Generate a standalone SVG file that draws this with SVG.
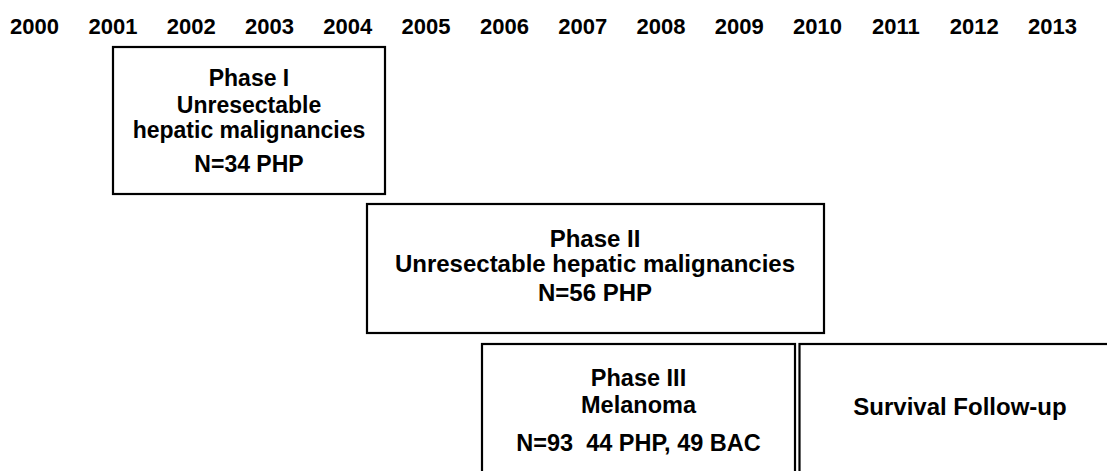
<svg xmlns="http://www.w3.org/2000/svg" width="1107" height="471" viewBox="0 0 1107 471">
<style>
text{font-family:"Liberation Sans",Arial,sans-serif;font-weight:bold;fill:#000;text-anchor:middle}
.yr{font-size:22px}
.box{fill:#fff;stroke:#000;stroke-width:2.2}
</style>
<rect width="1107" height="471" fill="#fff"/>
<g id="years">
<text class="yr" x="34.6" y="34">2000</text>
<text class="yr" x="112.9" y="34">2001</text>
<text class="yr" x="191.2" y="34">2002</text>
<text class="yr" x="269.5" y="34">2003</text>
<text class="yr" x="347.8" y="34">2004</text>
<text class="yr" x="426.1" y="34">2005</text>
<text class="yr" x="504.4" y="34">2006</text>
<text class="yr" x="582.7" y="34">2007</text>
<text class="yr" x="661" y="34">2008</text>
<text class="yr" x="739.3" y="34">2009</text>
<text class="yr" x="817.6" y="34">2010</text>
<text class="yr" x="895.9" y="34">2011</text>
<text class="yr" x="974.2" y="34">2012</text>
<text class="yr" x="1052.5" y="34">2013</text>
</g>
<g id="phase1">
<rect class="box" x="113" y="47" width="272" height="147"/>
<text x="249" y="86" font-size="23">Phase I</text>
<text x="249" y="113" font-size="23">Unresectable</text>
<text x="249" y="138" font-size="23">hepatic malignancies</text>
<text x="249" y="172" font-size="23">N=34 PHP</text>
</g>
<g id="phase2">
<rect class="box" x="367" y="204" width="457" height="129"/>
<text x="595" y="247" font-size="24">Phase II</text>
<text x="595" y="272" font-size="24">Unresectable hepatic malignancies</text>
<text x="595" y="301" font-size="24">N=56 PHP</text>
</g>
<g id="phase3">
<rect class="box" x="482" y="344" width="313" height="140"/>
<text x="638.5" y="386" font-size="23.5">Phase III</text>
<text x="638.5" y="413" font-size="23.5">Melanoma</text>
<text x="638.5" y="451" font-size="23.5" xml:space="preserve">N=93  44 PHP, 49 BAC</text>
</g>
<g id="survival">
<rect class="box" x="799.5" y="344" width="320" height="140"/>
<text x="960" y="415" font-size="24">Survival Follow-up</text>
</g>
<g id="connectors"/>
</svg>
